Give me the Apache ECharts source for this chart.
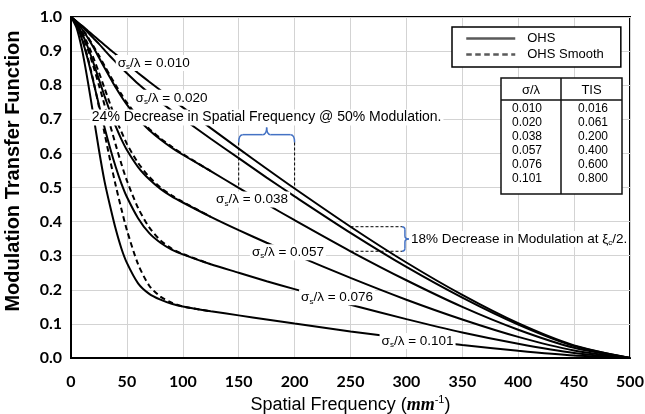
<!DOCTYPE html>
<html>
<head>
<meta charset="utf-8">
<script src="https://cdn.jsdelivr.net/npm/echarts@6/dist/echarts.min.js"></script>
<style>
  html, body { margin: 0; padding: 0; background: #fff; }
  #chart { width: 645px; height: 414px; }
</style>
</head>
<body>
<div id="chart"></div>
<script>
// Spatial frequency samples (mm^-1)
const frequency = [0, 5, 10, 15, 20, 25, 30, 35, 40, 45, 50, 60, 70, 80, 90, 100, 125, 150, 175, 200, 250, 300, 350, 400, 450, 500];

// OHS MTF curves, one per roughness ratio sigma_s / lambda
const ohs010 = [1, 0.987, 0.974, 0.960, 0.946, 0.932, 0.918, 0.904, 0.891, 0.877, 0.863, 0.836, 0.810, 0.785, 0.760, 0.735, 0.674, 0.614, 0.555, 0.497, 0.385, 0.280, 0.185, 0.102, 0.037, 0];
const ohs020 = [1, 0.987, 0.972, 0.955, 0.938, 0.921, 0.903, 0.885, 0.868, 0.851, 0.835, 0.804, 0.776, 0.750, 0.726, 0.702, 0.643, 0.586, 0.529, 0.474, 0.367, 0.267, 0.177, 0.098, 0.035, 0];
const ohs038 = [1, 0.984, 0.964, 0.939, 0.911, 0.881, 0.851, 0.822, 0.793, 0.767, 0.743, 0.701, 0.668, 0.641, 0.617, 0.596, 0.548, 0.499, 0.451, 0.404, 0.313, 0.228, 0.150, 0.083, 0.030, 0];
const ohs057 = [1, 0.981, 0.951, 0.912, 0.866, 0.817, 0.768, 0.722, 0.679, 0.642, 0.610, 0.560, 0.524, 0.496, 0.474, 0.456, 0.414, 0.375, 0.338, 0.303, 0.235, 0.171, 0.113, 0.062, 0.022, 0];
const ohs076 = [1, 0.976, 0.933, 0.876, 0.810, 0.742, 0.676, 0.615, 0.560, 0.512, 0.472, 0.410, 0.366, 0.338, 0.318, 0.304, 0.275, 0.250, 0.225, 0.202, 0.156, 0.114, 0.075, 0.042, 0.015, 0];
const ohs101 = [1, 0.968, 0.902, 0.812, 0.712, 0.610, 0.518, 0.445, 0.378, 0.322, 0.279, 0.219, 0.188, 0.171, 0.159, 0.151, 0.137, 0.125, 0.113, 0.101, 0.078, 0.057, 0.038, 0.021, 0.007, 0];

// OHS Smooth curves (they join the OHS curves above ~125 mm^-1)
const smoothFrequency = [0, 5, 10, 15, 20, 25, 30, 35, 40, 45, 50, 60, 70, 80, 90, 100, 125];
const smooth038 = [1, 0.985, 0.965, 0.942, 0.915, 0.887, 0.857, 0.828, 0.800, 0.774, 0.749, 0.707, 0.672, 0.644, 0.620, 0.598, 0.548];
const smooth057 = [1, 0.983, 0.956, 0.921, 0.881, 0.837, 0.791, 0.745, 0.702, 0.664, 0.628, 0.572, 0.531, 0.500, 0.477, 0.458, 0.414];
const smooth076 = [1, 0.980, 0.948, 0.906, 0.856, 0.800, 0.742, 0.683, 0.625, 0.570, 0.520, 0.440, 0.383, 0.345, 0.321, 0.305, 0.275];
const smooth101 = [1, 0.978, 0.937, 0.881, 0.813, 0.737, 0.659, 0.580, 0.506, 0.438, 0.375, 0.275, 0.212, 0.180, 0.162, 0.151, 0.137];

// Roughness ratios and total integrated scatter
const sigmaRatios = ['0.010', '0.020', '0.038', '0.057', '0.076', '0.101'];
const tisValues = ['0.016', '0.061', '0.200', '0.400', '0.600', '0.800'];

// Axis ticks
const xTicks = [0, 50, 100, 150, 200, 250, 300, 350, 400, 450, 500];
const yTicks = [0, 0.1, 0.2, 0.3, 0.4, 0.5, 0.6, 0.7, 0.8, 0.9, 1.0];

// Where each curve label sits, in data units
const curveLabelAt = [[74, 0.865], [90, 0.763], [162, 0.465], [194, 0.31], [238, 0.178], [310, 0.05]];

const SANS = "'Liberation Sans', Arial, sans-serif";
const AXISFONT = "Lato, 'Liberation Sans', sans-serif";
const BLUE = '#4472C4';

const pair = (xs, ys) => xs.map((x, i) => [x, ys[i]]);

const series = [];
[ohs010, ohs020, ohs038, ohs057, ohs076, ohs101].forEach(ys => {
  series.push({
    type: 'line', name: 'OHS', data: pair(frequency, ys),
    symbol: 'none', smooth: 0.25, silent: true,
    lineStyle: { color: '#000', width: 2 }, itemStyle: { color: '#000' }
  });
});
[smooth038, smooth057, smooth076, smooth101].forEach(ys => {
  series.push({
    type: 'line', name: 'OHS Smooth', data: pair(smoothFrequency, ys),
    symbol: 'none', smooth: 0.25, silent: true,
    lineStyle: { color: '#000', width: 2, type: [5.5, 3.5] }, itemStyle: { color: '#000' }
  });
});

const chart = echarts.init(document.getElementById('chart'), null, { renderer: 'canvas' });

chart.setOption({
  animation: false,
  backgroundColor: '#fff',
  grid: {
    left: 71, right: 15, top: 17, bottom: 56, outerBoundsMode: 'none', containLabel: false,
    show: true, borderColor: '#000', borderWidth: 2, backgroundColor: 'transparent'
  },
  legend: {
    data: ['OHS', 'OHS Smooth'],
    orient: 'vertical', left: 452, top: 27,
    padding: [5, 17, 6, 13], itemWidth: 49, itemHeight: 14, itemGap: 3,
    backgroundColor: '#fff', borderColor: '#000', borderWidth: 1.5,
    selectedMode: false,
    itemStyle: { opacity: 0 },
    lineStyle: { color: '#5a5a5a', width: 2.5 },
    textStyle: { fontFamily: SANS, fontSize: 13, color: '#000', padding: [0, 0, 0, 7] }
  },
  xAxis: {
    type: 'value', min: xTicks[0], max: xTicks[xTicks.length - 1], interval: xTicks[1] - xTicks[0],
    axisLine: { lineStyle: { color: '#000', width: 2 } },
    axisTick: { show: false },
    splitLine: { lineStyle: { color: '#d3d3d3', width: 1 } },
    axisLabel: { fontFamily: AXISFONT, fontWeight: 'bold', fontSize: 16, color: '#000', margin: 16 },
    name: '{n|Spatial Frequency (}{i|mm}{p|-1}{n|)}',
    nameLocation: 'middle', nameGap: 36,
    nameTextStyle: {
      rich: {
        n: { fontFamily: "'Liberation Sans Narrow', " + SANS, fontSize: 18, color: '#000', lineHeight: 21, verticalAlign: 'middle' },
        i: { fontFamily: "'Liberation Serif', serif", fontStyle: 'italic', fontWeight: 'bold', fontSize: 18, color: '#000', lineHeight: 21, verticalAlign: 'middle' },
        p: { fontFamily: SANS, fontSize: 11, color: '#000', lineHeight: 12, verticalAlign: 'top' }
      }
    }
  },
  yAxis: {
    type: 'value', min: yTicks[0], max: yTicks[yTicks.length - 1], interval: 0.1,
    axisLine: { show: true, lineStyle: { color: '#000', width: 2 } },
    axisTick: { show: false },
    splitLine: { lineStyle: { color: '#d3d3d3', width: 1 } },
    axisLabel: { fontFamily: AXISFONT, fontWeight: 'bold', fontSize: 16, color: '#000', margin: 9, formatter: v => v.toFixed(1) }
  },
  series: series
});

// Annotations placed from data coordinates
const P = (x, y) => chart.convertToPixel({ gridIndex: 0 }, [x, y]);
const at = (arr, x) => arr[frequency.indexOf(x)];
const graphics = [];
const Z = 20;

// Axis title (vertical)
graphics.push({
  type: 'text', x: 13, y: 171, rotation: Math.PI / 2, z: Z,
  style: { text: 'Modulation Transfer Function', font: "bold 20px 'Liberation Sans Narrow', " + SANS, fill: '#000', align: 'center', verticalAlign: 'middle' }
});

// Curve labels
const richSigma = {
  g: { fontFamily: SANS, fontSize: 13.5, fill: '#000', lineHeight: 16, verticalAlign: 'middle' },
  s: { fontFamily: SANS, fontSize: 8, fill: '#000', lineHeight: 9, verticalAlign: 'bottom' }
};
sigmaRatios.forEach((r, i) => {
  const p = P(curveLabelAt[i][0], curveLabelAt[i][1]);
  graphics.push({
    type: 'text', x: p[0], y: p[1], z: Z,
    style: {
      text: '{g|σ}{s|s}{g|/λ = ' + r + '}', rich: richSigma,
      align: 'center', verticalAlign: 'middle', backgroundColor: '#fff', padding: [0, 2, 0, 2]
    }
  });
});

// 24% decrease in frequency at 50% modulation
const tTop = P(175, 0.705);
graphics.push({
  type: 'text', x: tTop[0], y: tTop[1], z: Z,
  style: { text: '24% Decrease in Spatial Frequency @ 50% Modulation.', font: '14px ' + SANS, fill: '#000', align: 'center', verticalAlign: 'middle', backgroundColor: '#fff', padding: [1, 2, 1, 2] }
});
const fLo = 150, fHi = 200;
const bL = P(fLo, 0.632), bR = P(fHi, 0.632);
const yBar = P(fLo, 0.655)[1], yPeak = P(fLo, 0.676)[1];
const xMid = (bL[0] + bR[0]) / 2, r1 = 4;
const blue = { stroke: BLUE, lineWidth: 1.5, fill: null };
graphics.push(
  { type: 'bezierCurve', z: Z, shape: { x1: bL[0], y1: bL[1], cpx1: bL[0], cpy1: yBar, x2: bL[0] + r1, y2: yBar }, style: blue },
  { type: 'line', z: Z, shape: { x1: bL[0] + r1, y1: yBar, x2: xMid - r1, y2: yBar }, style: blue },
  { type: 'bezierCurve', z: Z, shape: { x1: xMid - r1, y1: yBar, cpx1: xMid, cpy1: yBar, x2: xMid, y2: yPeak }, style: blue },
  { type: 'bezierCurve', z: Z, shape: { x1: xMid, y1: yPeak, cpx1: xMid, cpy1: yBar, x2: xMid + r1, y2: yBar }, style: blue },
  { type: 'line', z: Z, shape: { x1: xMid + r1, y1: yBar, x2: bR[0] - r1, y2: yBar }, style: blue },
  { type: 'bezierCurve', z: Z, shape: { x1: bR[0] - r1, y1: yBar, cpx1: bR[0], cpy1: yBar, x2: bR[0], y2: bR[1] }, style: blue }
);
const dash = { stroke: '#000', lineWidth: 1, lineDash: [3, 2] };
const dL = P(fLo, at(ohs038, fLo)), dR = P(fHi, at(ohs010, fHi));
graphics.push(
  { type: 'line', z: Z, shape: { x1: bL[0], y1: bL[1], x2: dL[0], y2: dL[1] }, style: dash },
  { type: 'line', z: Z, shape: { x1: bR[0], y1: bR[1], x2: dR[0], y2: dR[1] }, style: dash }
);

// 18% decrease in modulation at half cutoff
const half = 250;
const mTop = P(half, at(ohs010, half)), mBot = P(half, at(ohs038, half));
const xEnd = P(296, 0)[0], xBar = xEnd + 3, xTip = xBar + 4;
const yMid = (mTop[1] + mBot[1]) / 2, r2 = 3;
graphics.push(
  { type: 'line', z: Z, shape: { x1: mTop[0], y1: mTop[1], x2: xEnd, y2: mTop[1] }, style: dash },
  { type: 'line', z: Z, shape: { x1: mBot[0], y1: mBot[1], x2: xEnd, y2: mBot[1] }, style: dash },
  { type: 'bezierCurve', z: Z, shape: { x1: xEnd, y1: mTop[1], cpx1: xBar, cpy1: mTop[1], x2: xBar, y2: mTop[1] + r2 }, style: blue },
  { type: 'line', z: Z, shape: { x1: xBar, y1: mTop[1] + r2, x2: xBar, y2: yMid - r2 }, style: blue },
  { type: 'bezierCurve', z: Z, shape: { x1: xBar, y1: yMid - r2, cpx1: xBar, cpy1: yMid, x2: xTip, y2: yMid }, style: blue },
  { type: 'bezierCurve', z: Z, shape: { x1: xTip, y1: yMid, cpx1: xBar, cpy1: yMid, x2: xBar, y2: yMid + r2 }, style: blue },
  { type: 'line', z: Z, shape: { x1: xBar, y1: yMid + r2, x2: xBar, y2: mBot[1] - r2 }, style: blue },
  { type: 'bezierCurve', z: Z, shape: { x1: xBar, y1: mBot[1] - r2, cpx1: xBar, cpy1: mBot[1], x2: xEnd, y2: mBot[1] }, style: blue }
);
graphics.push({
  type: 'text', x: xTip + 1, y: yMid, z: Z,
  style: {
    text: '{g|18% Decrease in Modulation at ξ}{s|c}{g|/2.}',
    rich: {
      g: { fontFamily: SANS, fontSize: 13.5, fill: '#000', lineHeight: 16, verticalAlign: 'middle' },
      s: { fontFamily: SANS, fontSize: 8, fill: '#000', lineHeight: 9, verticalAlign: 'bottom' }
    },
    align: 'left', verticalAlign: 'middle', backgroundColor: '#fff', padding: [0, 1, 0, 1]
  }
});

// Roughness / TIS table
const tb = { x: 501, y: 78, w: 121, h: 116, head: 22, col: 60, row: 14 };
const frame = { stroke: '#111', lineWidth: 1.5, fill: null };
graphics.push(
  { type: 'rect', z: Z, shape: { x: tb.x, y: tb.y, width: tb.w, height: tb.h }, style: { stroke: '#111', lineWidth: 1.5, fill: '#fff' } },
  { type: 'line', z: Z, shape: { x1: tb.x, y1: tb.y + tb.head, x2: tb.x + tb.w, y2: tb.y + tb.head }, style: frame },
  { type: 'line', z: Z, shape: { x1: tb.x + tb.col, y1: tb.y, x2: tb.x + tb.col, y2: tb.y + tb.h }, style: frame },
  { type: 'text', z: Z, x: tb.x + tb.col / 2, y: tb.y + tb.head / 2 + 1, style: { text: 'σ/λ', font: '13px ' + SANS, fill: '#000', align: 'center', verticalAlign: 'middle' } },
  { type: 'text', z: Z, x: tb.x + tb.col + (tb.w - tb.col) / 2, y: tb.y + tb.head / 2 + 1, style: { text: 'TIS', font: '13px ' + SANS, fill: '#000', align: 'center', verticalAlign: 'middle' } }
);
sigmaRatios.forEach((r, i) => {
  const y = tb.y + tb.head + 9 + i * tb.row;
  graphics.push(
    { type: 'text', z: Z, x: tb.x + 11, y: y, style: { text: r, font: '12px ' + SANS, fill: '#000', align: 'left', verticalAlign: 'middle' } },
    { type: 'text', z: Z, x: tb.x + tb.col + 17, y: y, style: { text: tisValues[i], font: '12px ' + SANS, fill: '#000', align: 'left', verticalAlign: 'middle' } }
  );
});

chart.setOption({ graphic: graphics });
</script>
</body>
</html>
